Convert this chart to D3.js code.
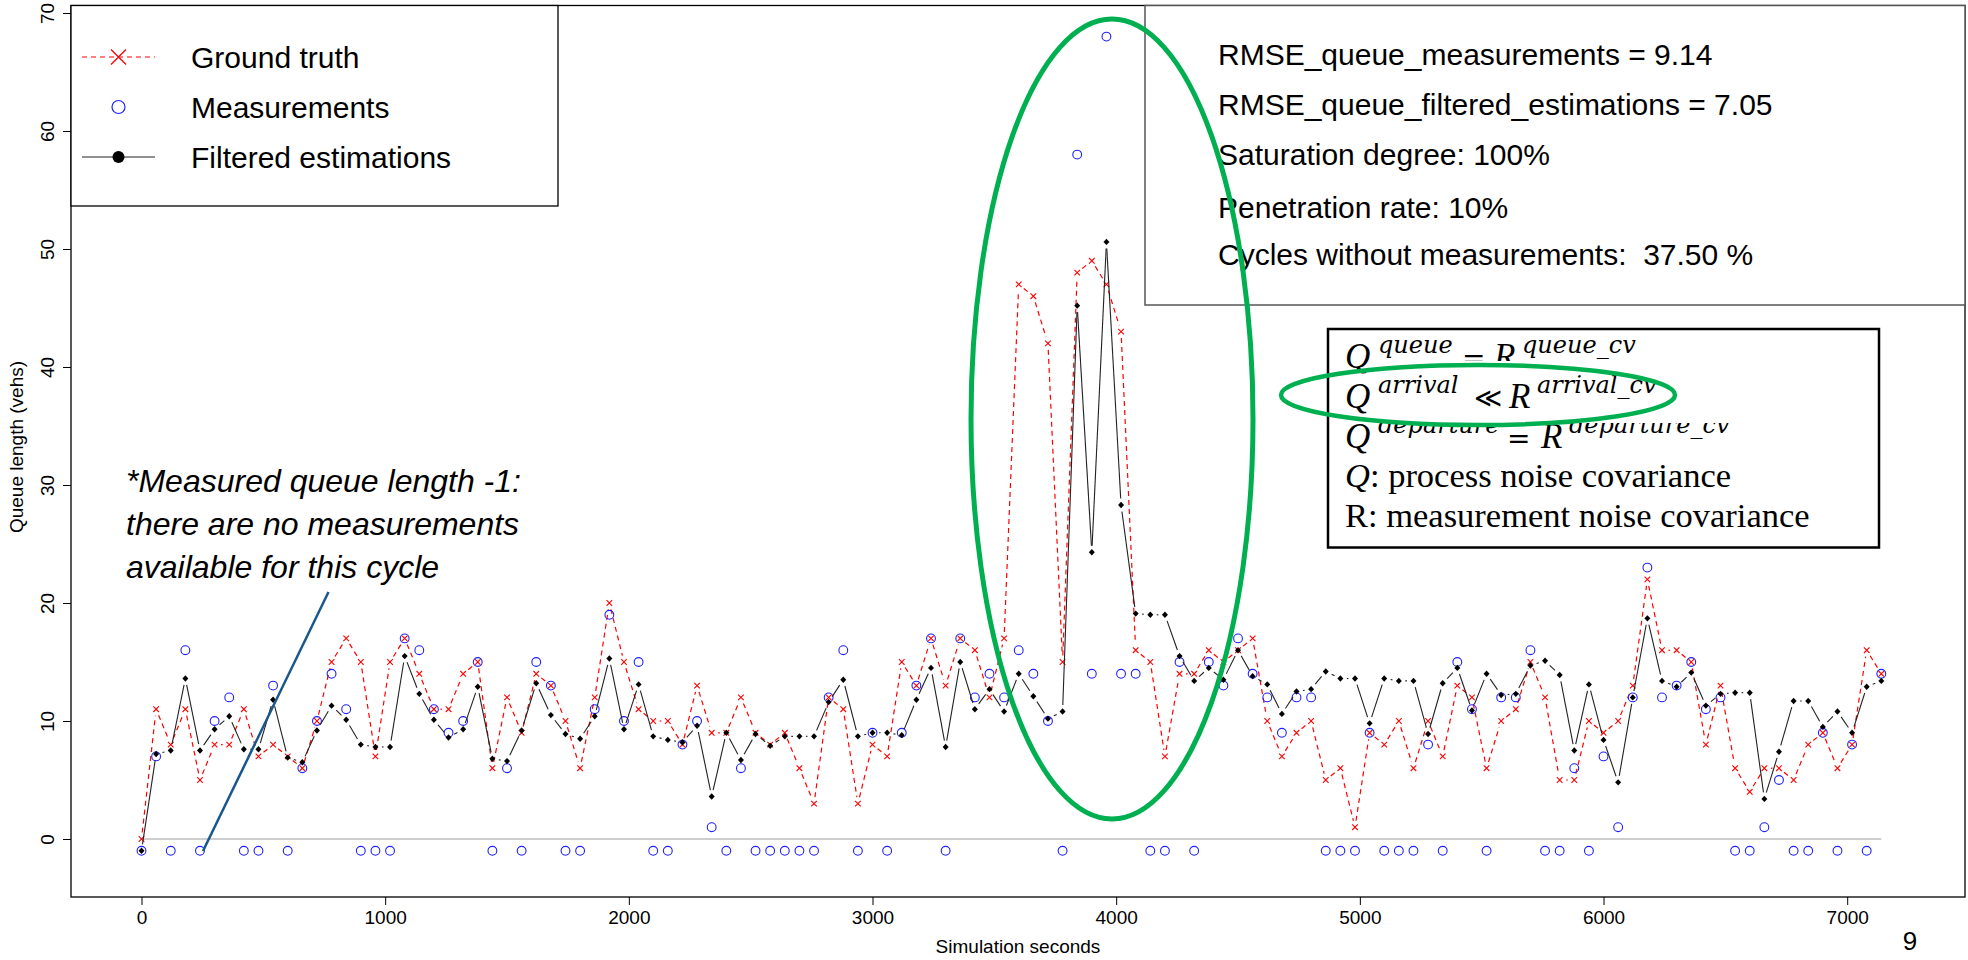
<!DOCTYPE html>
<html>
<head>
<meta charset="utf-8">
<script src="https://cdn.jsdelivr.net/npm/d3@7"></script>
<style>
  html, body { margin: 0; padding: 0; background: #fff; }
  svg { display: block; }
  text { font-family: "Liberation Sans", Arial, sans-serif; }
</style>
</head>
<body>
<div id="chart"></div>
<script>
// cycle start times (s) and the three series, one value per cycle
var times = [0,60,120,180,240,300,360,420,480,540,600,660,720,780,840,900,960,1020,1080,1140,
  1200,1260,1320,1380,1440,1500,1560,1620,1680,1740,1800,1860,1920,1980,2040,2100,2160,2220,2280,2340,
  2400,2460,2520,2580,2640,2700,2760,2820,2880,2940,3000,3060,3120,3180,3240,3300,3360,3420,3480,3540,
  3600,3660,3720,3780,3840,3900,3960,4020,4080,4140,4200,4260,4320,4380,4440,4500,4560,4620,4680,4740,
  4800,4860,4920,4980,5040,5100,5160,5220,5280,5340,5400,5460,5520,5580,5640,5700,5760,5820,5880,5940,
  6000,6060,6120,6180,6240,6300,6360,6420,6480,6540,6600,6660,6720,6780,6840,6900,6960,7020,7080,7140];

var groundTruth = [0,11,8,11,5,8,8,11,7,8,
  7,6,10,15,17,15,7,15,17,14,
  11,11,14,15,6,12,9,14,13,10,
  6,12,20,15,11,10,10,8,13,9,
  9,12,9,8,9,6,3,12,11,3,
  8,7,15,13,17,13,17,16,12,17,
  47,46,42,15,48,49,47,43,16,15,
  7,14,14,16,15,16,17,10,7,9,
  10,5,6,1,9,8,10,6,10,7,
  13,12,6,10,11,15,12,5,5,10,
  9,10,13,22,16,16,15,8,13,6,
  4,6,6,5,8,9,6,8,16,14];

var measurements = [-1,7,-1,16,-1,10,12,-1,-1,13,
  -1,6,10,14,11,-1,-1,-1,17,16,
  11,9,10,15,-1,6,-1,15,13,-1,
  -1,11,19,10,15,-1,-1,8,10,1,
  -1,6,-1,-1,-1,-1,-1,12,16,-1,
  9,-1,9,13,17,-1,17,12,14,12,
  16,14,10,-1,58,14,68,14,14,-1,
  -1,15,-1,15,13,17,14,12,9,12,
  12,-1,-1,-1,9,-1,-1,-1,8,-1,
  15,11,-1,12,12,16,-1,-1,6,-1,
  7,1,12,23,12,13,15,11,12,-1,
  -1,1,5,-1,-1,9,-1,8,-1,14];

var filtered = [-1,7.2,7.5,13.6,7.5,9.3,10.4,7.6,7.6,11.8,
  6.9,6.5,9.2,11.3,10.1,8.0,7.8,7.8,15.5,12.3,
  10.1,8.6,9.3,12.9,6.8,6.6,9.2,13.2,10.5,8.9,
  8.5,10.4,15.3,9.3,13.1,8.7,8.4,8.2,9.6,3.6,
  9.0,6.7,8.9,7.9,8.7,8.7,8.7,11.6,13.5,8.7,
  9.0,9.0,8.8,11.8,14.5,7.8,15.0,11.0,12.7,10.8,
  14.0,12.1,10.2,10.8,45.2,24.3,50.6,28.3,19.1,19.0,
  19.0,15.5,13.4,14.5,13.5,16.0,13.8,13.1,10.6,12.5,
  12.7,14.2,13.6,13.6,9.8,13.6,13.4,13.4,8.9,13.2,
  14.5,10.9,14.0,12.2,12.3,14.7,15.1,13.9,7.5,13.1,
  8.4,4.8,12.0,18.7,13.4,12.9,14.1,11.3,12.3,12.4,
  12.4,3.4,7.4,11.7,11.7,9.5,10.8,9.0,12.9,13.4];

var xTicks = [0,1000,2000,3000,4000,5000,6000,7000];
var yTicks = [0,10,20,30,40,50,60,70];

var legendLabels = ["Ground truth", "Measurements", "Filtered estimations"];
var statsLines = ["RMSE_queue_measurements = 9.14",
  "RMSE_queue_filtered_estimations = 7.05",
  "Saturation degree: 100%",
  "Penetration rate: 10%",
  "Cycles without measurements:  37.50 %"];
var noteLines = ["*Measured queue length -1:", "there are no measurements", "available for this cycle"];

var W = 1968, H = 960;
var box = {left: 71, right: 1965, top: 5.5, bottom: 897};

var svg = d3.select("#chart").append("svg")
  .attr("width", W).attr("height", H);
svg.append("rect").attr("width", W).attr("height", H).attr("fill", "#fff");

var x = d3.scaleLinear().domain([0, 7000]).range([141.5, 1847.2]);
var y = d3.scaleLinear().domain([0, 70]).range([839, 13]);

// zero reference line
svg.append("line")
  .attr("x1", x(times[0])).attr("x2", x(times[times.length - 1]))
  .attr("y1", y(0)).attr("y2", y(0))
  .attr("stroke", "#bebebe").attr("stroke-width", 1.5);

// R type="b": segments stop short of each point
function gapped(vals, gap) {
  var segs = [];
  for (var i = 1; i < vals.length; i++) {
    var x0 = x(times[i-1]), y0 = y(vals[i-1]), x1 = x(times[i]), y1 = y(vals[i]);
    var dx = x1 - x0, dy = y1 - y0, len = Math.hypot(dx, dy);
    if (len <= 2 * gap) continue;
    var ux = dx / len, uy = dy / len;
    segs.push([x0 + ux*gap, y0 + uy*gap, x1 - ux*gap, y1 - uy*gap]);
  }
  return segs;
}

// ground truth
svg.append("g").selectAll("line")
  .data(gapped(groundTruth, 6.5)).enter().append("line")
  .attr("x1", function(d){ return d[0]; }).attr("y1", function(d){ return d[1]; })
  .attr("x2", function(d){ return d[2]; }).attr("y2", function(d){ return d[3]; })
  .attr("stroke", "#ff0000").attr("stroke-width", 1.2)
  .attr("stroke-dasharray", "5,4");
svg.append("g").selectAll("path")
  .data(groundTruth).enter().append("path")
  .attr("transform", function(d, i){ return "translate(" + x(times[i]) + "," + y(d) + ")"; })
  .attr("d", "M-2.8,-2.8L2.8,2.8M-2.8,2.8L2.8,-2.8")
  .attr("stroke", "#ff0000").attr("stroke-width", 1.1).attr("fill", "none");

// measurements
svg.append("g").selectAll("circle")
  .data(measurements).enter().append("circle")
  .attr("cx", function(d, i){ return x(times[i]); })
  .attr("cy", function(d){ return y(d); })
  .attr("r", 4.4)
  .attr("fill", "none").attr("stroke", "#2020ff").attr("stroke-width", 1.1);

// filtered estimations
svg.append("g").selectAll("line")
  .data(gapped(filtered, 6.5)).enter().append("line")
  .attr("x1", function(d){ return d[0]; }).attr("y1", function(d){ return d[1]; })
  .attr("x2", function(d){ return d[2]; }).attr("y2", function(d){ return d[3]; })
  .attr("stroke", "#222").attr("stroke-width", 1.1);
svg.append("g").selectAll("path")
  .data(filtered).enter().append("path")
  .attr("transform", function(d, i){ return "translate(" + x(times[i]) + "," + y(d) + ")"; })
  .attr("d", "M0,-3.2L3,0L0,3.2L-3,0Z")
  .attr("fill", "#000");

// axes
var xAxis = svg.append("g")
  .attr("transform", "translate(0," + box.bottom + ")")
  .call(d3.axisBottom(x).tickValues(xTicks).tickSize(8).tickPadding(6).tickFormat(d3.format("d")));
xAxis.select(".domain").remove();
xAxis.selectAll("line").attr("stroke", "#000");
xAxis.selectAll("text").attr("fill", "#000")
  .style("font-family", "Liberation Sans, Arial, sans-serif").style("font-size", "19px");

var yAxis = svg.append("g")
  .attr("transform", "translate(" + box.left + ",0)")
  .call(d3.axisLeft(y).tickValues(yTicks).tickSize(8).tickFormat(d3.format("d")));
yAxis.select(".domain").remove();
yAxis.selectAll("line").attr("stroke", "#000");
yAxis.selectAll("text")
  .attr("transform", "rotate(-90)")
  .attr("x", 0).attr("y", -17).attr("dy", null)
  .attr("text-anchor", "middle").attr("fill", "#000")
  .style("font-family", "Liberation Sans, Arial, sans-serif").style("font-size", "19px");

svg.append("text")
  .attr("transform", "translate(23,447) rotate(-90)")
  .attr("text-anchor", "middle").style("font-size", "19px")
  .text("Queue length (vehs)");
svg.append("text")
  .attr("x", (box.left + box.right) / 2).attr("y", 953)
  .attr("text-anchor", "middle").style("font-size", "19px")
  .text("Simulation seconds");

// plot frame
svg.append("rect")
  .attr("x", box.left).attr("y", box.top)
  .attr("width", box.right - box.left).attr("height", box.bottom - box.top)
  .attr("fill", "none").attr("stroke", "#000").attr("stroke-width", 1.3);

// legend
var leg = svg.append("g");
leg.append("rect").attr("x", box.left).attr("y", box.top)
  .attr("width", 487).attr("height", 200.5)
  .attr("fill", "#fff").attr("stroke", "#000").attr("stroke-width", 1.3);
var rowY = [57, 107, 157];
leg.append("line").attr("x1", 82).attr("x2", 155).attr("y1", rowY[0]).attr("y2", rowY[0])
  .attr("stroke", "#ff0000").attr("stroke-width", 1.2).attr("stroke-dasharray", "5,4");
leg.append("path").attr("transform", "translate(118.5," + rowY[0] + ")")
  .attr("d", "M-7.5,-7.5L7.5,7.5M-7.5,7.5L7.5,-7.5")
  .attr("stroke", "#ff0000").attr("stroke-width", 1.3);
leg.append("circle").attr("cx", 118.5).attr("cy", rowY[1]).attr("r", 6.5)
  .attr("fill", "none").attr("stroke", "#2020ff").attr("stroke-width", 1.2);
leg.append("line").attr("x1", 82).attr("x2", 155).attr("y1", rowY[2]).attr("y2", rowY[2])
  .attr("stroke", "#222").attr("stroke-width", 1.2);
leg.append("circle").attr("cx", 118.5).attr("cy", rowY[2]).attr("r", 6).attr("fill", "#000");
leg.selectAll("text.lab").data(legendLabels).enter().append("text")
  .attr("class", "lab")
  .attr("x", 191).attr("y", function(d, i){ return rowY[i] + 11; })
  .style("font-size", "30px").text(function(d){ return d; });

// stats box
var stats = svg.append("g");
stats.append("rect").attr("x", 1145).attr("y", box.top)
  .attr("width", box.right - 1145).attr("height", 305 - box.top)
  .attr("fill", "#fff").attr("stroke", "#555").attr("stroke-width", 1.5);
var statsBase = [65, 115, 165, 218, 265];
stats.selectAll("text").data(statsLines).enter().append("text")
  .attr("x", 1218).attr("y", function(d, i){ return statsBase[i]; })
  .style("font-size", "30px").style("white-space", "pre")
  .text(function(d){ return d; });

// covariance box
var eq = svg.append("g");
eq.append("rect").attr("x", 1328).attr("y", 329).attr("width", 551).attr("height", 218.5)
  .attr("fill", "#fff").attr("stroke", "#000").attr("stroke-width", 2.5);

var serif = "Liberation Serif, Times New Roman, serif";
var eqLeft = 1345;
function mainSym(g, xx, yy, s) {
  g.append("text").attr("x", xx).attr("y", yy)
    .style("font-family", serif).style("font-style", "italic").style("font-size", "35px").text(s);
}
function sup(g, xx, yy, s) {
  g.append("text").attr("x", xx).attr("y", yy - 15)
    .style("font-family", "DejaVu Serif, serif").style("font-style", "italic")
    .style("font-size", "24px").text(s);
}
function rel(g, xx, yy, s, size) {
  g.append("text").attr("x", xx).attr("y", yy)
    .style("font-family", "DejaVu Serif, serif").style("font-size", size + "px").text(s);
}
var eqRows = [
  {b: 368, l: "queue", ox: 1462, rx: 1494, r: "queue_cv"},
  {b: 448, l: "departure", ox: 1507, rx: 1541, r: "departure_cv"}
];
eqRows.forEach(function(r) {
  mainSym(eq, eqLeft, r.b, "Q"); sup(eq, 1378, r.b, r.l);
  rel(eq, r.ox, r.b, "=", 28); mainSym(eq, r.rx, r.b, "R"); sup(eq, r.rx + 28, r.b, r.r);
});
// middle equation sits on top of its neighbours
eq.append("rect").attr("x", 1377).attr("y", 361).attr("width", 380).attr("height", 62).attr("fill", "#fff");
mainSym(eq, eqLeft, 408, "Q"); sup(eq, 1378, 408, "arrival");
rel(eq, 1474, 407, "\u226A", 27); mainSym(eq, 1509, 408, "R"); sup(eq, 1537, 408, "arrival_cv");

var l4 = eq.append("text").attr("x", eqLeft).attr("y", 487)
  .style("font-family", serif).style("font-size", "34.5px");
l4.append("tspan").style("font-style", "italic").text("Q");
l4.append("tspan").text(": process noise covariance");
eq.append("text").attr("x", eqLeft).attr("y", 527)
  .style("font-family", serif).style("font-size", "34.5px")
  .text("R: measurement noise covariance");

// annotation about -1 values
svg.selectAll("text.note").data(noteLines).enter().append("text")
  .attr("class", "note")
  .attr("x", 126).attr("y", function(d, i){ return 492 + i * 43; })
  .style("font-size", "32px").style("font-style", "italic")
  .text(function(d){ return d; });
svg.append("line").attr("x1", 328.5).attr("y1", 592).attr("x2", 203).attr("y2", 851)
  .attr("stroke", "#17578c").attr("stroke-width", 2.5);

// green highlight ellipses
svg.append("ellipse").attr("cx", 1112).attr("cy", 419).attr("rx", 141).attr("ry", 400)
  .attr("fill", "none").attr("stroke", "#00b050").attr("stroke-width", 5);
svg.append("ellipse").attr("cx", 1478).attr("cy", 395).attr("rx", 197).attr("ry", 30)
  .attr("fill", "none").attr("stroke", "#00b050").attr("stroke-width", 4.5);

// slide number
svg.append("text").attr("x", 1910).attr("y", 950).attr("text-anchor", "middle")
  .style("font-size", "26px").text("9");
</script>
</body>
</html>
